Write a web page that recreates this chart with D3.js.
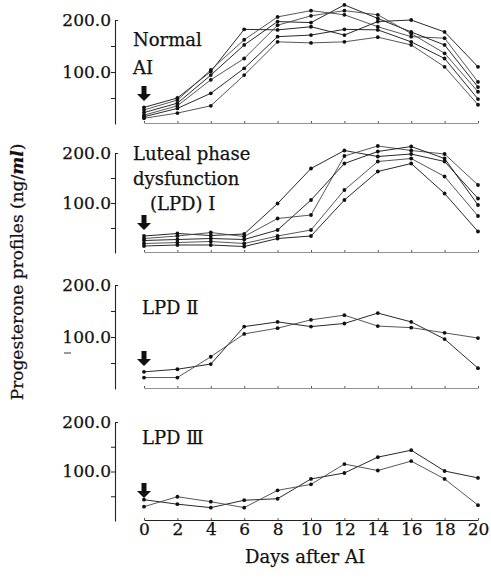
<!DOCTYPE html>
<html>
<head>
<meta charset="utf-8">
<script src="https://cdn.jsdelivr.net/npm/d3@7"></script>
<style>
body { margin: 0; background: #fff; }
text { font-family: "DejaVu Serif", "Liberation Serif", serif; fill: #111; stroke: #111; stroke-width: 0.25px; }
</style>
</head>
<body>
<script>
var w = 491;
var h = 581;

// days after AI
var days = [0, 2, 4, 6, 8, 10, 12, 14, 16, 18, 20];

// Normal
var normal = [
    [32, 50, 101, 182, 181, 187, 171, 197, 200, 177, 110],
    [27, 46, 104, 162, 206, 218, 210, 187, 168, 165, 81],
    [22, 40, 94, 152, 197, 195, 229, 203, 177, 152, 71],
    [17, 35, 85, 126, 190, 208, 218, 210, 174, 136, 62],
    [14, 30, 59, 107, 168, 171, 182, 181, 158, 126, 48],
    [11, 21, 35, 94, 158, 156, 158, 167, 152, 110, 37]
];
// LPD I
var lpd1 = [
    [34, 39, 35, 38, 99, 169, 205, 193, 198, 183, 109],
    [29, 34, 41, 33, 69, 76, 194, 214, 205, 198, 136],
    [25, 27, 29, 27, 46, 106, 179, 203, 213, 189, 96],
    [19, 21, 23, 19, 34, 46, 126, 183, 189, 153, 74],
    [14, 16, 16, 13, 29, 34, 106, 163, 179, 119, 43]
];
// LPD II
var lpd2 = [
    [33, 38, 48, 120, 129, 120, 126, 146, 129, 96, 40],
    [22, 22, 62, 106, 117, 133, 142, 121, 118, 108, 98]
];
// LPD III
var lpd3 = [
    [43, 34, 27, 42, 45, 85, 97, 129, 143, 101, 87],
    [29, 49, 39, 27, 62, 74, 115, 102, 121, 85, 32]
];

var groups = [normal, lpd1, lpd2, lpd3];
var groupLabels = [["Normal", "AI"], ["Luteal phase", "dysfunction", "(LPD) Ⅰ"], ["LPD Ⅱ"], ["LPD Ⅲ"]];
var yTicks = [50, 100, 150, 200];
var yLabels = [100, 200];

// panel placement: y pixel of 200 and of 0
var panelTop = [20, 153, 285, 422];
var panelBottom = [124, 253, 389, 521];
var axisX = 115;

var svg = d3.select("body")
    .append("svg")
    .attr("width", w)
    .attr("height", h);

var x = d3.scaleLinear().domain([0, 20]).range([144, 478]);

var line = d3.line()
    .x(function(d, i) { return x(days[i]); });

groups.forEach(function(series, p) {
    var y = d3.scaleLinear().domain([0, 200]).range([panelBottom[p], panelTop[p]]);
    var g = svg.append("g");

    // y axis
    var ya = g.append("g")
        .attr("transform", "translate(" + axisX + ",0)")
        .call(d3.axisLeft(y).tickValues(yTicks).tickSize(4).tickSizeOuter(0)
            .tickFormat(function(d) { return yLabels.indexOf(d) >= 0 ? d3.format(".1f")(d) : ""; }));
    ya.select(".domain").attr("stroke", "#222").attr("stroke-width", 1.1);
    ya.selectAll(".tick line").attr("stroke", "#222");
    ya.selectAll(".tick").filter(function(d) { return d === 200; }).select("line").attr("x2", 3);
    ya.selectAll(".tick text")
        .attr("x", -4)
        .style("font-family", "DejaVu Serif")
        .style("font-size", "17px")
        .style("fill", "#111");

    // x axis baseline
    var xa = g.append("g")
        .attr("transform", "translate(0," + (panelBottom[p] - 1) + ")")
        .call(d3.axisBottom(x).tickValues(days).tickSize(-2).tickSizeOuter(0)
            .tickFormat(function(d) { return p === 3 ? d : ""; }));
    xa.select(".domain").attr("stroke", p === 3 ? "#222" : "#777").attr("stroke-width", p === 3 ? 1.2 : 0.8);
    xa.selectAll(".tick line").attr("stroke", "#555");
    xa.selectAll(".tick text")
        .attr("y", 3)
        .style("font-family", "DejaVu Serif")
        .style("font-size", "17px")
        .style("fill", "#111");

    line.y(function(d) { return y(d); });

    g.selectAll("path.series")
        .data(series)
        .enter()
        .append("path")
        .attr("class", "series")
        .attr("d", line)
        .attr("fill", "none")
        .attr("stroke", function(d, i) { return i % 2 ? "#444" : "#111"; })
        .attr("stroke-width", 0.9);

    series.forEach(function(s) {
        g.selectAll(null)
            .data(s)
            .enter()
            .append("circle")
            .attr("cx", function(d, i) { return x(days[i]); })
            .attr("cy", function(d) { return y(d); })
            .attr("r", 1.9)
            .attr("fill", "#111");
    });

    // arrow marking AI
    var ax = x(0), ab = panelBottom[p] - 23;
    g.append("path")
        .attr("d", "M" + (ax - 2.5) + "," + (ab - 15) + "h5v8h4.5l-7,7l-7,-7h4.5z")
        .attr("fill", "#111");

    // group label
    var lab = groupLabels[p];
    var lx = p === 0 || p === 1 ? 133 : 142;
    var ly = [46, 160, 314, 444][p];
    lab.forEach(function(t, k) {
        g.append("text")
            .attr("x", p === 1 && k === 2 ? 150 : lx)
            .attr("y", ly + k * (p === 0 ? 28 : 25))
            .style("font-size", "18px")
            .text(t);
    });
});

// stray mark in the scan
svg.append("line")
    .attr("x1", 64).attr("x2", 71)
    .attr("y1", 353).attr("y2", 353)
    .attr("stroke", "#333").attr("stroke-width", 1);

// axis titles
svg.append("text")
    .attr("x", 305)
    .attr("y", 563)
    .attr("text-anchor", "middle")
    .style("font-size", "18px")
    .text("Days after AI");

var yt = svg.append("text")
    .attr("transform", "translate(23,272) rotate(-90)")
    .attr("text-anchor", "middle")
    .style("font-size", "17px");
yt.append("tspan").text("Progesterone profiles  (ng/");
yt.append("tspan").style("font-style", "italic").style("font-weight", "bold").text("ml");
yt.append("tspan").text(")");
</script>
</body>
</html>
